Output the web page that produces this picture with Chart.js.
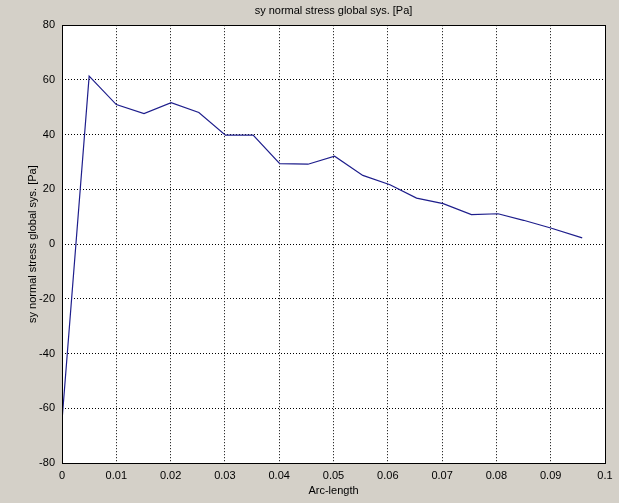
<!DOCTYPE html>
<html>
<head>
<meta charset="utf-8">
<script src="https://cdn.jsdelivr.net/npm/chart.js@4/dist/chart.umd.min.js"></script>
<style>
    html, body { margin: 0; padding: 0; background: #d4d0c8; }
    #wrap { width: 619px; height: 503px; }
</style>
</head>
<body>
<div id="wrap"><canvas id="stressChart" width="619" height="503"></canvas></div>
<script>
// values
const arcLength = [0, 0.005, 0.0100, 0.0151, 0.0201, 0.0252, 0.0301, 0.0352, 0.0401, 0.0453,
    0.0502, 0.0554, 0.0604, 0.0653, 0.0702, 0.0754, 0.0803, 0.0850, 0.0900, 0.0958];
const syStress = [-64.5, 61.4, 51.0, 47.7, 51.7, 48.1, 39.8, 39.8, 29.4, 29.2,
    32.1, 25.1, 21.7, 16.8, 14.8, 10.8, 11.1, 8.7, 5.9, 2.3];
const xTicks = [0, 0.01, 0.02, 0.03, 0.04, 0.05, 0.06, 0.07, 0.08, 0.09, 0.1];
const yTicks = [-80, -60, -40, -20, 0, 20, 40, 60, 80];

const chartTitle = 'sy normal stress global sys. [Pa]';
const xTitle = 'Arc-length';
const yTitle = 'sy normal stress global sys. [Pa]';

Chart.defaults.font.family = '"Liberation Sans", Arial, sans-serif';
Chart.defaults.font.size = 11;
Chart.defaults.color = '#000';

// white plot area with a black frame
const plotFrame = {
    id: 'plotFrame',
    beforeDraw(chart) {
        const { ctx, chartArea: a } = chart;
        ctx.save();
        ctx.fillStyle = '#ffffff';
        ctx.fillRect(a.left, a.top, a.right - a.left, a.bottom - a.top);
        ctx.restore();
    },
    afterDraw(chart) {
        const { ctx, chartArea: a } = chart;
        ctx.save();
        ctx.strokeStyle = '#000';
        ctx.lineWidth = 1;
        ctx.strokeRect(Math.round(a.left) + 0.5, Math.round(a.top) + 0.5,
            Math.round(a.right - a.left), Math.round(a.bottom - a.top));
        ctx.restore();
    }
};

const points = arcLength.map((x, i) => ({ x: x, y: syStress[i] }));

new Chart(document.getElementById('stressChart'), {
    type: 'line',
    data: {
        datasets: [{
            data: points,
            borderColor: '#1e1e8c',
            borderWidth: 1.2,
            pointRadius: 0,
            tension: 0,
            fill: false
        }]
    },
    options: {
        responsive: false,
        animation: false,
        layout: { padding: { left: 0, right: 14, top: 0, bottom: 0 } },
        plugins: {
            legend: { display: false },
            tooltip: { enabled: false },
            title: {
                display: true,
                text: chartTitle,
                fullSize: false,
                font: { size: 11, weight: 'normal' },
                color: '#000',
                padding: { top: 4, bottom: 8 }
            }
        },
        scales: {
            x: {
                type: 'linear',
                min: 0,
                max: 0.1,
                afterBuildTicks: s => { s.ticks = xTicks.map(v => ({ value: v })); },
                afterFit: s => { s.height = 40; },
                ticks: {
                    padding: 6,
                    maxRotation: 0,
                    callback: v => String(+v.toFixed(2))
                },
                grid: { color: '#000', lineWidth: 1, drawTicks: false },
                border: { display: false, dash: [1, 2] },
                title: { display: true, text: xTitle, padding: { top: 0, bottom: 5 } }
            },
            y: {
                min: -80,
                max: 80,
                afterBuildTicks: s => { s.ticks = yTicks.map(v => ({ value: v })); },
                afterFit: s => { s.width = 62; },
                ticks: { padding: 7 },
                grid: { color: '#000', lineWidth: 1, drawTicks: false },
                border: { display: false, dash: [1, 2] },
                title: { display: true, text: yTitle, padding: { top: 26, bottom: 0 } }
            }
        }
    },
    plugins: [plotFrame]
});
</script>
</body>
</html>
